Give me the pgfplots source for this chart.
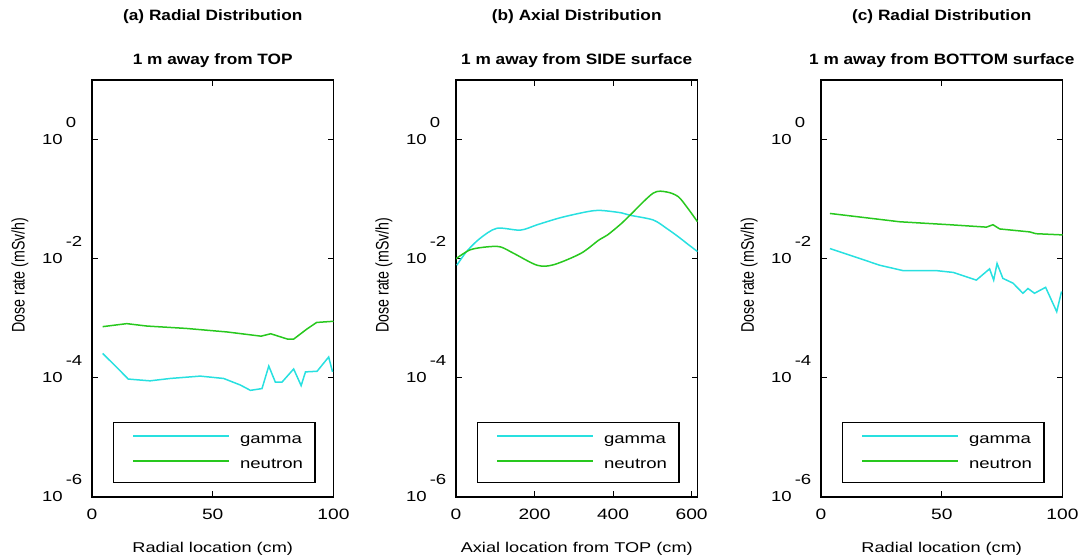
\documentclass[border=0pt]{standalone}
\usepackage{fontspec}
\setmainfont{Liberation Sans}[FakeStretch=1.28]
\newfontfamily\rotfont{Liberation Sans}[FakeStretch=0.78]
\newfontfamily\titlefont{Liberation Sans}[FakeStretch=1.15]
\usepackage{pgfplots}
\pgfplotsset{compat=1.18}

\definecolor{gammac}{RGB}{40,224,224}
\definecolor{neutronc}{RGB}{40,200,30}

\newcommand\ticksize{\fontsize{15}{18}\selectfont}
\newcommand\yticksize{\fontsize{14.5}{17}\selectfont}
\newcommand\labsize{\fontsize{14.2}{17}\selectfont}
\newcommand\rotsize{\rotfont\fontsize{18.2}{21}\selectfont}
\newcommand\legsize{\fontsize{14.5}{17}\selectfont}
\newcommand\titlesize{\titlefont\fontsize{15}{18}\selectfont\bfseries}
\newcommand\tenexp[1]{10\rlap{\hspace{3pt}\raisebox{17pt}{#1}}}

% common settings for the three panels
\pgfplotsset{
  scale only axis, width=241.5pt, height=417pt,
  ymin=1e-6, ymax=10,
  ytick={1e-6,1e-4,1e-2,1},
  yticklabels={\tenexp{-6},\tenexp{-4},\tenexp{-2},\tenexp{0}},
  yminorticks=false, xminorticks=false,
  /pgf/number format/assume math mode=true,
  axis line style={line width=1.2pt},
  tick style={line width=1pt, black},
  major tick length=6pt, tick align=inside,
  xticklabel style={font=\ticksize, anchor=north, inner sep=0pt, yshift=-12pt},
  yticklabel style={font=\yticksize, anchor=east, inner sep=0pt, xshift=-29pt, yshift=8.5pt},
  xlabel style={font=\labsize, at={(axis description cs:0.5,-0.1319)}, anchor=base},
  ylabel style={font=\rotsize, anchor=center, at={(axis description cs:-0.298,0.532)}},
  legend cell align=left,
  legend style={at={(rel axis cs:0.087,0.034)}, anchor=south west,
    draw=black, line width=1.1pt, fill=white,
    inner xsep=12pt, inner ysep=11pt, row sep=12pt, font=\legsize,
    nodes={inner sep=0pt, text height=10pt, text depth=3pt, anchor=west}},
  legend image code/.code={%
    \path (-7pt,0pt) (106pt,0pt);
    \draw[#1, line width=1.5pt] (0pt,4pt) -- (96pt,4pt);},
  gam/.style={color=gammac, line width=1.5pt},
  neu/.style={color=neutronc, line width=1.5pt},
}

\begin{document}
\begin{tikzpicture}
\useasboundingbox (0pt,0pt) rectangle (1083pt,559pt);

% (a) radial distribution above the top
\begin{semilogyaxis}[at={(92pt,62pt)}, anchor=south west,
    xmin=0, xmax=100, xtick={0,50,100},
    xlabel={Radial location (cm)},
    ylabel={Dose rate (mSv/h)}]
\addplot[gam] coordinates {
  (4.4,2.57e-4) (10.2,1.51e-4) (15,9.55e-5) (24,8.91e-5) (32.4,9.77e-5)
  (44.8,1.07e-4) (54.5,9.77e-5) (61.4,7.59e-5) (65.6,6.17e-5) (70.4,6.61e-5)
  (73.2,1.58e-4) (75.9,8.51e-5) (78.7,8.51e-5) (83.5,1.41e-4) (86.6,7.41e-5)
  (88.4,1.26e-4) (93.2,1.29e-4) (98,2.24e-4) (99.6,1.26e-4)};
\addplot[neu] coordinates {
  (4.4,7.24e-4) (14.4,8.13e-4) (22.7,7.41e-4) (39,6.76e-4) (56,5.89e-4)
  (70,5.01e-4) (74,5.50e-4) (81,4.47e-4) (83.5,4.47e-4) (89,6.61e-4)
  (93,8.51e-4) (100,8.91e-4)};
\legend{gamma,neutron}
\end{semilogyaxis}
\node[font=\titlesize, anchor=base] at (212.75pt,538pt) {(a) Radial Distribution};
\node[font=\titlesize, anchor=base] at (212.75pt,494pt) {1 m away from TOP};

% (b) axial distribution beside the side surface
\begin{semilogyaxis}[at={(456pt,62pt)}, anchor=south west,
    xmin=0, xmax=615, xtick={0,200,400,600},
    xlabel={Axial location from TOP (cm)},
    ylabel={Dose rate (mSv/h)}]
\addplot[gam, smooth, tension=0.5] coordinates {
  (2,7.76e-3) (27,1.32e-2) (61,2.19e-2) (104,3.24e-2) (164,3.02e-2)
  (207,3.72e-2) (267,4.90e-2) (335,6.17e-2) (369,6.46e-2) (421,5.89e-2)
  (443,5.37e-2) (502,4.47e-2) (536,3.24e-2) (566,2.34e-2) (591,1.74e-2)
  (615,1.32e-2)};
\addplot[neu, smooth, tension=0.5] coordinates {
  (0,1.00e-2) (36,1.41e-2) (79,1.58e-2) (113,1.58e-2) (147,1.23e-2)
  (207,7.76e-3) (249,7.94e-3) (318,1.23e-2) (363,2.04e-2) (386,2.51e-2)
  (421,3.89e-2) (443,5.37e-2) (502,0.126) (536,0.132) (566,0.110)
  (591,6.92e-2) (615,4.17e-2)};
\legend{gamma,neutron}
\end{semilogyaxis}
\node[font=\titlesize, anchor=base] at (576.75pt,538pt) {(b) Axial Distribution};
\node[font=\titlesize, anchor=base] at (576.75pt,494pt) {1 m away from SIDE surface};

% (c) radial distribution below the bottom surface
\begin{semilogyaxis}[at={(821pt,62pt)}, anchor=south west,
    xmin=0, xmax=100, xtick={0,50,100},
    xlabel={Radial location (cm)},
    ylabel={Dose rate (mSv/h)}]
\addplot[gam] coordinates {
  (3.7,1.48e-2) (24.4,7.76e-3) (34,6.31e-3) (47.8,6.31e-3) (54.7,5.89e-3)
  (64.3,4.37e-3) (69.8,6.76e-3) (71.5,4.37e-3) (72.9,8.32e-3) (75.3,4.68e-3)
  (79.5,3.89e-3) (83.6,2.63e-3) (85.7,3.16e-3) (88.4,2.63e-3) (93,3.31e-3)
  (97.6,1.29e-3) (99.6,2.82e-3)};
\addplot[neu] coordinates {
  (3.7,5.75e-2) (32.6,4.17e-2) (53.3,3.72e-2) (68.5,3.39e-2) (71.2,3.72e-2)
  (74,3.16e-2) (86.4,2.82e-2) (89,2.63e-2) (100,2.51e-2)};
\legend{gamma,neutron}
\end{semilogyaxis}
\node[font=\titlesize, anchor=base] at (941.75pt,538pt) {(c) Radial Distribution};
\node[font=\titlesize, anchor=base] at (941.75pt,494pt) {1 m away from BOTTOM surface};
\end{tikzpicture}
\end{document}
